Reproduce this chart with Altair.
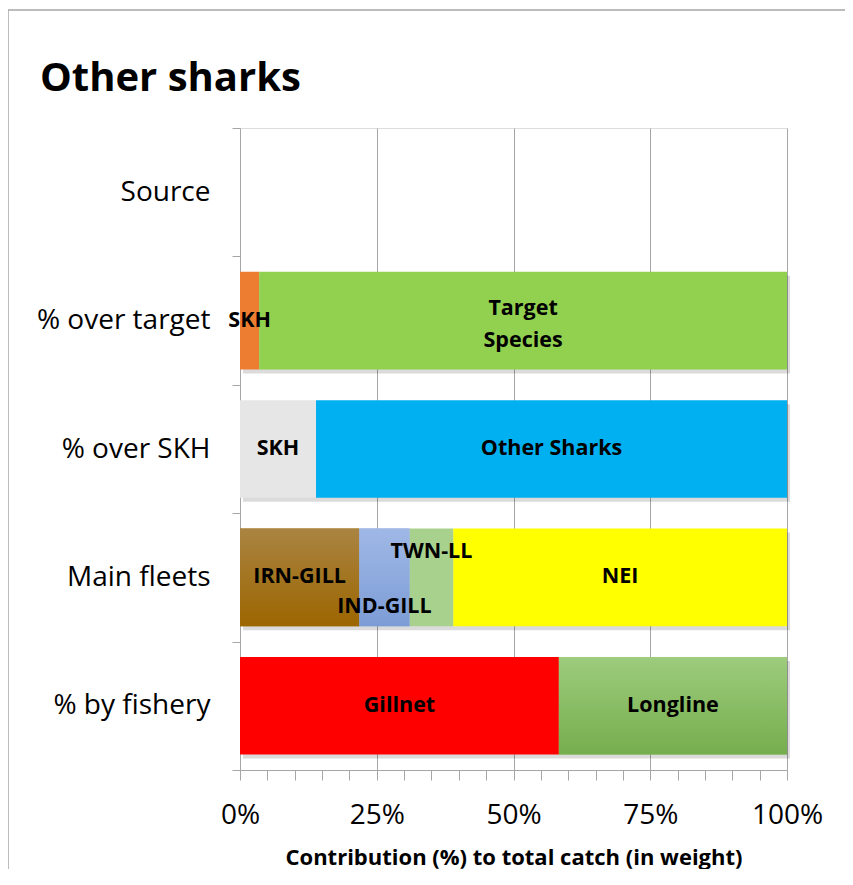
import altair as alt
import pandas as pd

# ---------------- data ----------------
categories = ["Source", "% over target", "% over SKH", "Main fleets", "% by fishery"]

target_labels = ["SKH", "Target Species"]
target_values = [3.5, 96.5]

skh_labels = ["SKH", "Other Sharks"]
skh_values = [13.9, 86.1]

fleet_labels = ["IRN-GILL", "IND-GILL", "TWN-LL", "NEI"]
fleet_values = [21.8, 9.2, 8.0, 61.0]

fishery_labels = ["Gillnet", "Longline"]
fishery_values = [58.3, 41.7]

x_tick_values = list(range(0, 101, 5))

rows = []
for cat, labels, values in [
    ("% over target", target_labels, target_values),
    ("% over SKH", skh_labels, skh_values),
    ("Main fleets", fleet_labels, fleet_values),
    ("% by fishery", fishery_labels, fishery_values),
]:
    start = 0.0
    for lab, v in zip(labels, values):
        rows.append(dict(cat=cat, key=cat + "|" + lab, label=lab,
                         start=start, end=start + v, mid=start + v / 2))
        start += v
df = pd.DataFrame(rows)

# ---------------- styles ----------------
color_map = {
    "% over target|SKH": "#ED7D31",
    "% over target|Target Species": "#92D050",
    "% over SKH|SKH": "#E7E6E6",
    "% over SKH|Other Sharks": "#00B0F0",
    "Main fleets|IRN-GILL": "#A27716",
    "Main fleets|IND-GILL": "#8FAADC",
    "Main fleets|TWN-LL": "#A9D18E",
    "Main fleets|NEI": "#FFFF00",
    "% by fishery|Gillnet": "#FF0000",
    "% by fishery|Longline": "#8CC168",
}
FONT = "Open Sans"
BAND = 0.76
GRAY = "#A6A6A6"

y_axis = alt.Axis(labelFontSize=28, labelFont=FONT, labelColor="#000000",
                  labelPadding=22, tickSize=8, tickBand="extent",
                  tickColor=GRAY, domainColor=GRAY, labelLimit=300, grid=False)
y_scale = alt.Scale(domain=categories, paddingInner=0, paddingOuter=0)

x_axis = alt.Axis(values=x_tick_values,
                  labelExpr="datum.value % 25 === 0 ? datum.value + '%' : ''",
                  labelFontSize=28, labelFont=FONT, labelColor="#000000",
                  labelPadding=21, tickSize=10, tickColor=GRAY,
                  domainColor=GRAY, labelOverlap=False, labelFlush=False,
                  gridColor=GRAY,
                  gridOpacity={"condition": {"test": "datum.value % 25 === 0 && datum.value > 0", "value": 1}, "value": 0},
                  titleFont=FONT, titleFontSize=22, titleFontWeight="bold",
                  titleColor="#000000", titlePadding=18)
x_scale = alt.Scale(domain=[0, 100], nice=False)
X_TITLE = "Contribution  (%) to total catch (in weight)"


def Y():
    return alt.Y("cat:N", title=None, scale=y_scale, axis=y_axis)


def X(field):
    return alt.X(field, title=X_TITLE, scale=x_scale, axis=x_axis)


base = alt.Chart(df)

shadow = base.mark_bar(color="#000000", opacity=0.14, height={"band": BAND},
                       xOffset=3, x2Offset=3, yOffset=4).encode(
    y=Y(), x=X("start:Q"), x2="end:Q")

bars = base.mark_bar(height={"band": BAND}).encode(
    y=Y(), x=X("start:Q"), x2="end:Q",
    color=alt.Color("key:N", legend=None,
                    scale=alt.Scale(domain=list(color_map.keys()),
                                    range=list(color_map.values()))))


def grad_bar(key, c_top, c_bot):
    return base.transform_filter(alt.datum.key == key).mark_bar(
        height={"band": BAND},
        color=alt.Gradient(gradient="linear", x1=0, x2=0, y1=0, y2=1,
                           stops=[alt.GradientStop(color=c_top, offset=0),
                                  alt.GradientStop(color=c_bot, offset=1)])
    ).encode(y=Y(), x=X("start:Q"), x2="end:Q")


g1 = grad_bar("Main fleets|IRN-GILL", "#AA8442", "#9C6600")
g2 = grad_bar("Main fleets|IND-GILL", "#9FB8E6", "#7D9CD6")
g3 = grad_bar("% by fishery|Longline", "#9DCC7C", "#76AE4E")

txt_kw = dict(font=FONT, fontSize=21.5, fontWeight="bold", color="#000000")
special = ["Target Species", "TWN-LL", "IND-GILL"]

labels_main = base.transform_filter(
    ~alt.FieldOneOfPredicate(field="label", oneOf=special)
).mark_text(**txt_kw).encode(y=Y(), x=X("mid:Q"), text="label:N")

labels_target = base.transform_filter(alt.datum.label == "Target Species").mark_text(
    lineBreak=" ", lineHeight=32, dy=-12, **txt_kw).encode(y=Y(), x=X("mid:Q"), text="label:N")

labels_twn = base.transform_filter(alt.datum.label == "TWN-LL").mark_text(
    dy=-25, **txt_kw).encode(y=Y(), x=X("mid:Q"), text="label:N")

labels_ind = base.transform_filter(alt.datum.label == "IND-GILL").mark_text(
    dy=30, **txt_kw).encode(y=Y(), x=X("mid:Q"), text="label:N")

one = pd.DataFrame({"a": [0]})
frame_top = alt.Chart(one).mark_rule(color=GRAY, strokeWidth=1.5, clip=False).encode(
    x=alt.value(-232), x2=alt.value(2000), y=alt.value(-118))
frame_left = alt.Chart(one).mark_rule(color=GRAY, strokeWidth=1.5, clip=False).encode(
    x=alt.value(-232), y=alt.value(-118), y2=alt.value(2000))

chart = alt.layer(frame_top, frame_left, shadow, bars, g1, g2, g3,
                  labels_main, labels_target, labels_twn, labels_ind).properties(
    width=547, height=642,
    title=alt.TitleParams("Other sharks", anchor="start", frame="group", dx=-200,
                          fontSize=40, font=FONT, fontWeight="bold", color="#000000",
                          baseline="alphabetic", offset=-122),
    autosize=alt.AutoSizeParams(type="none"),
    padding={"left": 232, "top": 120, "right": 58, "bottom": 99},
).configure_view(stroke=GRAY, strokeWidth=1).configure(background="#FFFFFF")

chart.save("out.html", embed_options={"renderer": "svg", "actions": False})
